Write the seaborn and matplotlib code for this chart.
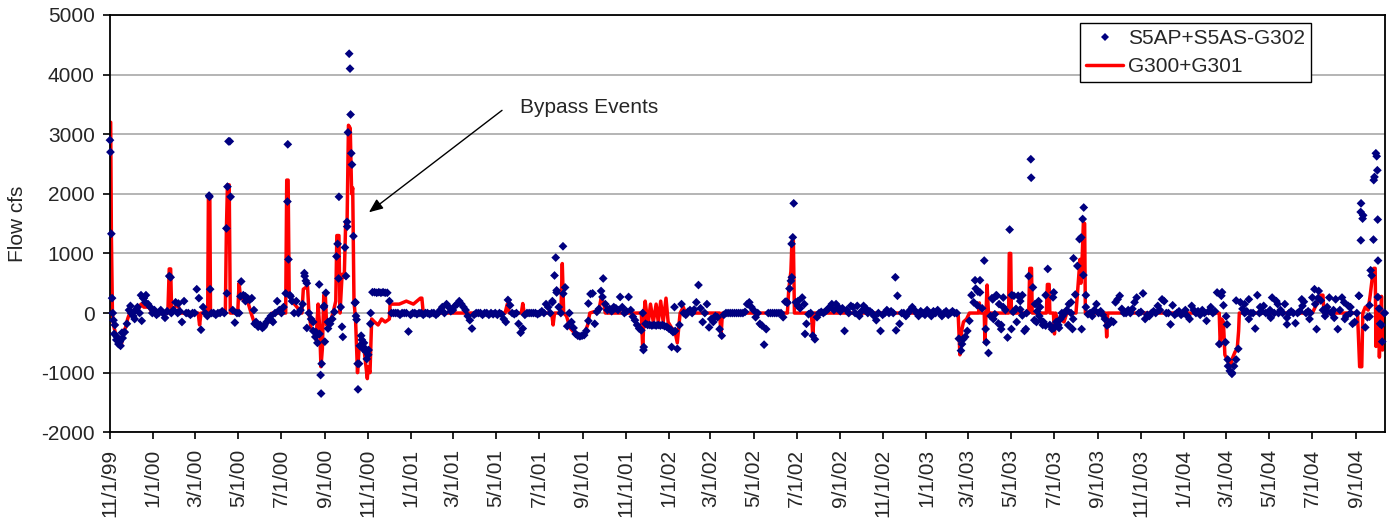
import pandas as pd
import matplotlib
matplotlib.use("Agg")
import matplotlib.pyplot as plt
from matplotlib.lines import Line2D
import seaborn as sns

START = pd.Timestamp("1999-11-01")
LAST_DAY = 1807  # axis runs to about 10/12/04

# S5AP+S5AS-G302 (cfs), one reading every 3 days starting 11/1/99
s5_flow = [
    2900, 250, -350, -450, -520, -550, -420, -320, -180, 50, 0, -50, 50, 100, 0, -130, 250, 300, 150, 100,
    0, 50, -30, 0, 50, 0, -80, 30, 620, 0, 50, 180, 0, 30, -150, 200, 0, 0, -30, 0,
    0, 400, 250, -280, 100, 0, -50, 1950, 0, 0, -30, 0, 0, 30, 0, 1420, 2880, 1950, 50, -160,
    0, 0, 530, 300, 280, 250, 220, 250, 50, -150, -230, -200, -250, -200, -150, -100, -50, -150, 0, 200,
    50, 0, 100, 330, 2830, 300, 200, 0, 200, 0, 50, 150, 620, 500, 0, -100, -300, -400, -500, -350,
    -850, 100, 340, -260, -180, -100, 20, 950, 580, 100, -400, 1100, 1530, 4350, 2680, 1290, 180, -850, -550, -450,
    -500, -650, -700, -180, 350, 350, 340, 350, 340, 350, 340, 340, 200, 0, 0, 0, 0, -30, 0, 0,
    0, -310, -30, 0, 0, -20, 0, 0, -30, 0, 0, -20, 0, 0, -30, 0, 50, 100, 0, 150,
    100, 30, 50, 120, 150, 200, 150, 100, 50, -50, -120, -260, -30, 0, 0, 0, -30, 0, 0, -30,
    0, -20, 0, -30, 0, -20, -100, -150, 220, 130, 0, -20, 0, -180, -330, -260, -30, 0, 0, 0,
    0, 0, -20, 0, 30, 0, 150, 100, 0, 180, 630, 380, 100, 0, 1120, 430, -220, 0, -150, -250,
    -350, -380, -390, -380, -370, -300, -130, 320, 330, -180, 20, 70, 370, 580, 150, 50, 70, 30, 100, 80,
    50, 270, 100, 0, 30, 270, 50, -60, -120, -200, -260, -290, -620, -180, -200, -200, -210, -200, -210, -200,
    -210, -200, -220, -230, -260, -280, -320, -300, -600, -200, 150, 0, -30, 20, 50, 0, 60, 180, 470, 80,
    -150, 0, 150, -240, -100, -150, -50, -70, -270, -380, -30, 0, 0, 0, 0, 0, 0, 0, 0, 0,
    20, 150, 180, 100, 50, -70, 0, -180, -210, -530, -270, 0, 0, 0, 0, 0, 0, 0, -70, 190,
    170, 410, 1160, 1840, 180, 120, 80, 260, 150, -180, -20, 0, -380, -440, -70, 0, 20, 0, 30, 60,
    100, 150, 50, 150, 100, 30, 80, -300, 50, 0, 120, 100, 0, 120, -50, 30, 120, 80, 0, 30,
    0, -50, -120, 0, -300, -30, 0, 50, 0, 30, 0, 600, 290, -180, 0, 0, -50, 0, 50, 100,
    50, 0, -50, 30, 0, -30, 50, 0, -50, 30, 0, 50, 0, -50, 0, 30, -30, 0, 30, 0,
    0, -430, -630, -440, -400, -300, -130, 300, 180, 410, 360, 550, 80, 880, -490, -670, -50, 230, -20, 290,
    150, -270, 260, 50, -410, 1400, 300, 290, 70, 290, 200, -40, -300, 0, 620, 2580, 430, 150, 30, -50,
    -130, -150, -210, 740, -200, -270, -250, -150, -200, -100, -50, 0, 50, 150, 180, -100, 310, 790, 1240, -270,
    1770, 100, -20, 0, -50, 50, 150, 0, 30, -30, -100, -210, -180, -130, -150, 180, 230, 290, 70, 0,
    0, 50, 0, 70, 180, 260, 0, 20, 330, -100, -30, -50, 0, 30, 0, 120, 50, 230, 200, 0,
    0, -190, 130, -30, 0, 30, -30, 0, 50, -50, -100, 120, 50, 0, 30, -30, 50, 0, -130, 30,
    100, 0, 30, 345, -520, 290, 130, -490, -780, -970, -1020, -890, -780, -600, 180, 70, 0, 30, 230, 0,
    0, -260, 300, 0, 30, 120, 0, 0, 50, 260, 0, 200, 0, 50, 0, 150, -190, 0, 30, 0,
    -170, 0, 30, 230, 190, 0, 30, 0, 260, 400, -270, 370, 210, 50, -50, 30, 260, 0, 50, 230,
    -270, 50, 260, 180, -50, 120, 0, -180, -150, 0, 290, 1840, 1640, -240, -70, 130, 630, 2230, 2680, 880,
    -180, -480, 0,
]

# extra S5AP+S5AS-G302 readings around events (day after 11/1/99, cfs)
s5_extra = [
    (0.7, 2700), (2, 1330), (4, 0), (5, -120), (7, -200), (10, -400), (14, -480), (17, -330),
    (29, 120), (35, -100), (44, 300), (47, 250), (50, 180), (86, 600), (97, 160),
    (140.5, 1970), (142, 400), (165.7, 330), (166.5, 2120), (169.8, 2880),
    (185, 280), (192, 200), (205, -180), (218, -230), (229, -120),
    (251.5, 1870), (253, 900), (256, 280), (275.5, 670), (277.5, 540), (279, -250),
    (288, -150), (292, -320), (296.5, 480), (298.5, -1040), (299.2, -1350),
    (303.5, 120), (304.5, -480), (309, -150), (322.6, 1160), (324.5, 1950), (328.8, -230),
    (334.5, 620), (336.2, 1450), (337.3, 3030), (340.2, 4100), (341, 3330), (343, 2490),
    (347, 170), (348.6, -50), (349.5, -110), (351.5, -1280), (353, -850), (356, -380),
    (358.5, -600), (362, -600), (364, -770), (366.5, -620), (369.5, 0),
    (627, 200), (631.7, 930), (633, 345), (642.4, 325), (678, 160), (698, 270),
    (755, 0), (756.5, -570), (796, -570), (800, 100),
    (959, 190), (965, 540), (966.3, 600), (967.7, 1270), (975, 200), (985, -350), (1114, -290),
    (1207.5, -520), (1226, 550), (1229, 130), (1233, 346), (1241, -268),
    (1250, 250), (1252, -100), (1256, 300), (1259, -175), (1263, -200), (1266, 100),
    (1277.5, -268), (1280, 20), (1285, -150), (1290, 60), (1293, 300), (1298, -268),
    (1305.5, 2270), (1310, -120), (1313, -150), (1316, 200), (1318, 100), (1322, -200), (1326, 300),
    (1336.5, 263), (1337.5, 346), (1345, -250), (1349, 0), (1358, -200),
    (1362, 0), (1364, -268), (1365.5, 918), (1376.4, 1268), (1378.5, 1577), (1379.5, 637), (1383, 300),
    (1576, 350), (1581.8, -55), (1583, -190), (1584.5, -890), (1590, -1000), (1596, 210),
    (1608, 150), (1614, -100), (1630, 100), (1645, -80), (1655, 150), (1668, -80),
    (1690, 120), (1700, -100), (1708, 150), (1712, 250), (1725, 100), (1735, -80),
    (1750, -100), (1758, 100), (1770, 290), (1772.5, 1695), (1772.7, 1220), (1775.2, 1584),
    (1785, -60), (1786.6, 717), (1790.6, 1232), (1792, 2283), (1795.2, 2630), (1796.1, 2395),
    (1796.6, 1568), (1796.8, 268), (1798.6, 74), (1802, -200), (1806.5, 0),
]

# G300+G301 (day after 11/1/99, cfs)
g300_pts = [
    (0, 3200), (1, 3200), (2, 1300), (3.5, 0), (5, -200), (8, -350), (12, -500), (16, -550),
    (19, -300), (22, -250), (25, -100), (28, 0), (40, 50), (44, 150), (48, 100), (55, 100),
    (60, 0), (82, 0), (84, 740), (86, 740), (87.5, 0), (92, 100), (96, 150), (100, 0),
    (125, 0), (127, -200), (129, 0), (138.5, 0), (139.5, 1950), (141.5, 1950), (142.5, 0),
    (163.5, 0), (165, 1400), (166.5, 2150), (169, 2150), (170.5, 0), (181, 0), (183, 500),
    (185, 250), (195, 200), (200, 0), (205, -180), (215, -220), (225, -150), (230, 0),
    (249, 0), (250.5, 2230), (252.5, 2230), (254, 300), (258, 200), (265, 100), (272, 0),
    (274, 400), (280, 450), (282, 0), (285, -250), (289, -300), (292, -450), (295, 150),
    (297, -200), (299, -900), (301, -600), (303, 300), (305, 350), (307, -200), (312, -150),
    (316, 0), (320, 200), (321.5, 1300), (324.5, 1300), (326, 0), (329, 650), (332, 600),
    (334, 1500), (336, 1500), (338, 3150), (340.5, 3100), (342.5, 2000), (344, 2100),
    (345.8, 200), (348, -100), (350.8, -1000), (353, -600), (356, -500), (360, -600),
    (364.7, -1100), (366, -900), (368.5, -1000), (370.9, -100), (375, -150), (380, -200),
    (385, -100), (390, -150), (396, -100), (397, 150), (410, 150), (420, 200), (430, 150),
    (440, 250), (442, 250), (444, 0),
    (560, 0), (563, 150), (566, 0), (583, 0), (585, 160), (587, 0), (626, 0), (628, -200),
    (630, 0), (639, 0), (641, 830), (643, 0), (647, -50), (652, -250), (658, -330), (665, -380),
    (672, -350), (677, -200), (680, 0), (693, 50), (696, 250), (700, 150), (702, 0),
    (753, 0), (755, -600), (757, 0), (758.5, 200), (762.5, -200), (766, 150), (770, -150),
    (774, 150), (777, -150), (780.5, 200), (784, -150), (788, 250), (791, -150), (796, -250),
    (800.5, -300), (804, -500), (808, 0), (812.5, 100), (817, -50), (822, 50), (827, 0),
    (864, 0), (866, -380), (868, 0),
    (960, 0), (962, 400), (965, 700), (966.5, 1210), (968.5, 1210), (970, 0), (994, 0),
    (996, -380), (998, 0),
    (1202, 0), (1204.5, -700), (1207, -300), (1209.5, -150), (1214, -100), (1218, 0),
    (1231, 0), (1232, 170), (1234, 0), (1239, 0), (1240, -500), (1241.5, 0), (1243, 470),
    (1245, 0), (1273.5, 0), (1274.5, 1000), (1276.5, 1000), (1277.5, 0), (1302, 0),
    (1303.5, 750), (1306, 750), (1307, 0), (1327, 0), (1328.5, 480), (1331, 480), (1332, 0),
    (1337, 0), (1338.5, -350), (1340, 0), (1343, -150), (1347, -100), (1352, -150), (1356, 0),
    (1369, 0), (1371.5, 400), (1373.5, 700), (1374.7, 900), (1376, 500), (1378, 1000),
    (1379.5, 1520), (1381.3, 1500), (1382.3, 0), (1411, 0), (1412.5, -400), (1414, 0),
    (1572, 0), (1573.5, -550), (1575.5, -100), (1578, -150), (1580, -700), (1584, -800),
    (1587.5, -900), (1591, -750), (1594.5, -650), (1597.5, -600), (1599.5, -300), (1600.5, 0),
    (1704, 0), (1708, 100), (1712, 200), (1716, 300), (1719, 300), (1720.5, 0),
    (1768, 0), (1771, -900), (1774, -900), (1775.5, 0), (1779, 100), (1783, 50), (1786, 300),
    (1789, 600), (1791, 750), (1793, 750), (1794.2, -560), (1796, 100), (1797.5, -100),
    (1799, -740), (1800.5, -300), (1802, 280), (1803.5, -620), (1805, -200), (1807, 0),
]

tick_labels = ["11/1/99", "1/1/00", "3/1/00", "5/1/00", "7/1/00", "9/1/00",
               "11/1/00", "1/1/01", "3/1/01", "5/1/01", "7/1/01", "9/1/01",
               "11/1/01", "1/1/02", "3/1/02", "5/1/02", "7/1/02", "9/1/02",
               "11/1/02", "1/1/03", "3/1/03", "5/1/03", "7/1/03", "9/1/03",
               "11/1/03", "1/1/04", "3/1/04", "5/1/04", "7/1/04", "9/1/04"]


def to_dates(days):
    return START + pd.to_timedelta(pd.Series(days, dtype=float), unit="D")


# build tables
base = pd.DataFrame({"day": [3 * i for i in range(len(s5_flow))], "flow": s5_flow})
extra = pd.DataFrame(s5_extra, columns=["day", "flow"])
s5 = pd.concat([base, extra], ignore_index=True)
s5["date"] = to_dates(s5["day"]).values
g300 = pd.DataFrame(g300_pts, columns=["day", "flow"])
g300["date"] = to_dates(g300["day"]).values

sns.set_style("white")
plt.rcParams["font.family"] = ["Liberation Sans", "DejaVu Sans"]
plt.rcParams["axes.unicode_minus"] = False

fig = plt.figure(figsize=(13.92, 5.25), dpi=100)
ax = fig.add_axes([0.0790, 0.1766, 0.9160, 0.7949])

sns.lineplot(data=g300, x="date", y="flow", color="#ff0000", lw=2.5, estimator=None,
             sort=False, ax=ax, zorder=2, legend=False)
sns.scatterplot(data=s5, x="date", y="flow", marker="D", s=20, color="#000080",
                edgecolor="none", linewidth=0, ax=ax, zorder=3, clip_on=False, legend=False)

ax.set_xlim(START, START + pd.Timedelta(days=LAST_DAY))
ax.set_ylim(-2000, 5000)
ax.set_yticks(range(-2000, 5001, 1000))
ax.set_xticks(pd.to_datetime(tick_labels, format="%m/%d/%y"))
ax.set_xticklabels(tick_labels, rotation=90)
ax.yaxis.grid(True, color="#a8a8a8", lw=1.2)
ax.xaxis.grid(False)
ax.set_axisbelow(True)
for sp in ax.spines.values():
    sp.set_color("black")
    sp.set_linewidth(1.3)
ax.tick_params(axis="both", direction="out", length=5, width=1.2, color="black",
               labelsize=15, bottom=True, left=True)
ax.tick_params(axis="x", pad=7)
ax.tick_params(axis="y", pad=6)
ax.set_xlabel("")
ax.set_ylabel("Flow cfs", fontsize=15, labelpad=10)

# arrow + label
ax.annotate("", xy=(START + pd.Timedelta(days=367), 1690),
            xytext=(START + pd.Timedelta(days=555.6), 3400),
            arrowprops=dict(arrowstyle="-|>,head_length=0.6,head_width=0.25", color="black",
                            lw=1, shrinkA=0, shrinkB=0, mutation_scale=14))
ax.text(START + pd.Timedelta(days=581), 3450, "Bypass Events", fontsize=15,
        ha="left", va="center")

handles = [Line2D([], [], marker="D", ls="none", color="#000080", markersize=4.5, markeredgewidth=0),
           Line2D([], [], color="#ff0000", lw=2.5)]
leg = ax.legend(handles, ["S5AP+S5AS-G302", "G300+G301"], loc="upper left",
                bbox_to_anchor=(0.7608, 0.9808), borderaxespad=0, frameon=True, fancybox=False,
                edgecolor="black", framealpha=1, fontsize=15, handlelength=1.76,
                handletextpad=0.25, labelspacing=0.43, borderpad=0.3, numpoints=1)
leg.get_frame().set_linewidth(1.0)

fig.savefig("out.png", dpi=100)
